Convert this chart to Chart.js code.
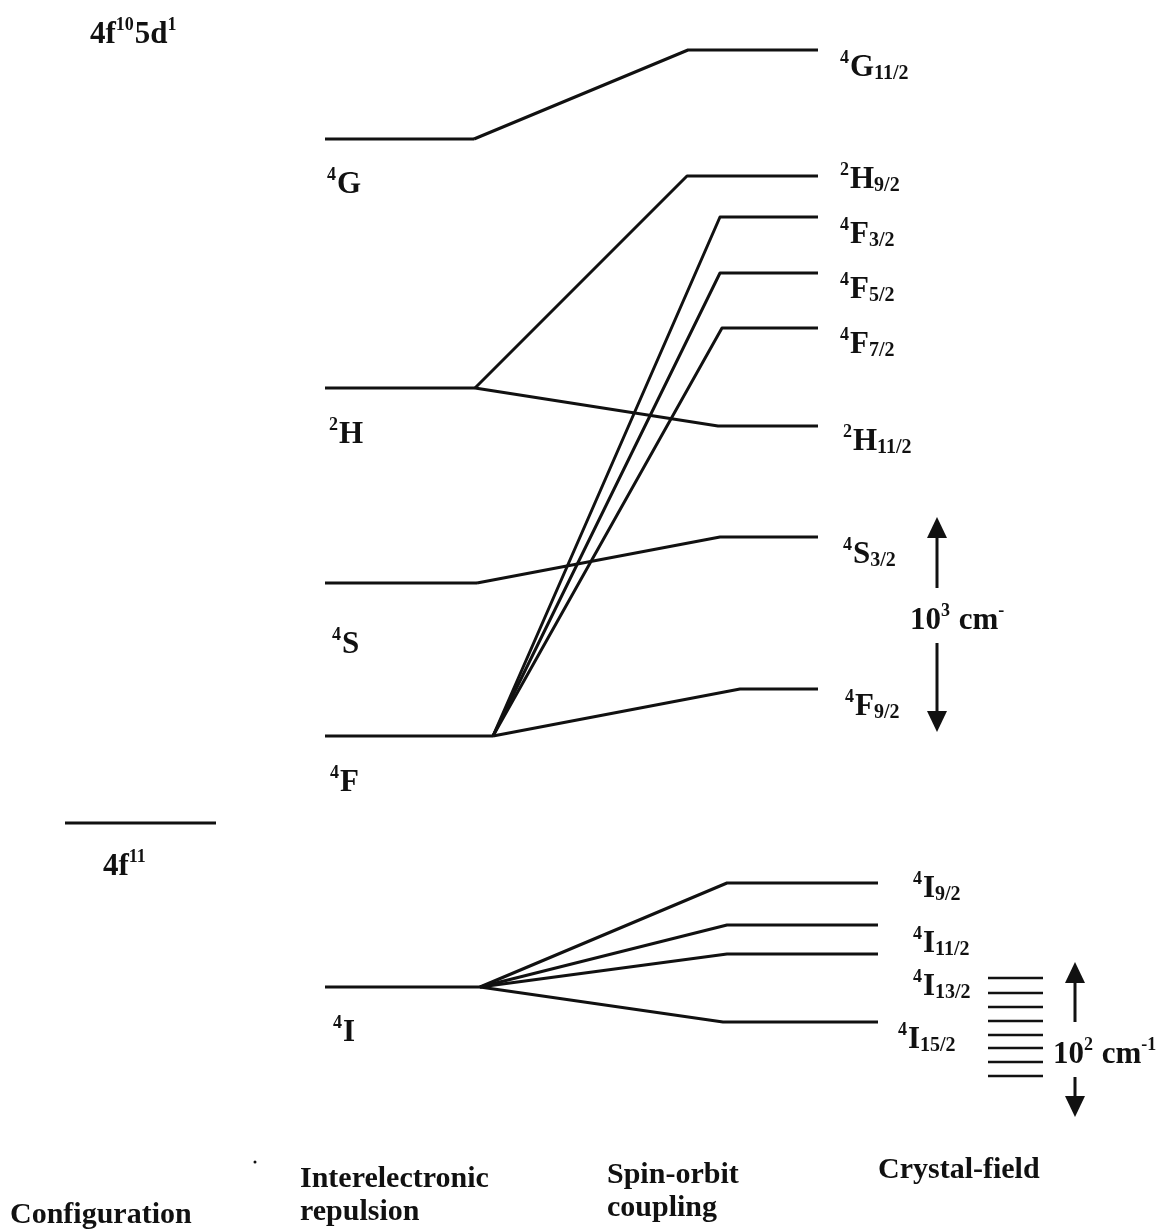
<!DOCTYPE html>
<html>
<head>
<meta charset="utf-8">
<title>Er3+ energy levels</title>
<script src="https://cdn.jsdelivr.net/npm/chart.js@4/dist/chart.umd.min.js"></script>
<style>
  html, body { margin: 0; padding: 0; background: #fff; }
  #wrap { width: 1176px; height: 1230px; position: relative; }
</style>
</head>
<body>
<div id="wrap"><canvas id="levels"></canvas></div>
<script>
// energies are in arbitrary diagram units, higher = more energetic

// terms (interelectronic repulsion)
const termSpin = ['4', '2', '4', '4', '4'];
const termLetter = ['G', 'H', 'S', 'F', 'I'];
const termEnergy = [1091, 842, 647, 494, 243];

// J multiplets (spin-orbit coupling), each tied to its parent term
const levelTerm = [0, 1, 3, 3, 3, 1, 2, 3, 4, 4, 4, 4];
const levelJ = ['11/2', '9/2', '3/2', '5/2', '7/2', '11/2', '3/2', '9/2', '9/2', '11/2', '13/2', '15/2'];
const levelEnergy = [1180, 1054, 1013, 957, 902, 804, 693, 541, 347, 305, 276, 208];

// configuration level and the Stark sublevels
const configEnergy = [407];
const starkEnergy = [252, 237, 223, 209, 195, 182, 168, 154];

// scale bars: [top, bottom]
const bigBar = [713, 498];
const smallBar = [268, 113];

const stageNames = [['Configuration'], ['Interelectronic', 'repulsion'], ['Spin-orbit', 'coupling'], ['Crystal-field']];

// ---- layout (pixels / x units) ----
const termX = [325, 475];
const branchX = [474, 475, 477, 493, 480];
const kinkX = [688, 687, 720, 720, 722, 718, 720, 740, 727, 727, 727, 723];
const levelEndX = [818, 818, 818, 818, 818, 818, 818, 818, 878, 878, 878, 878];
const configX = [65, 216];
const starkX = [988, 1043];
const termLabelX = [327, 329, 332, 330, 333];
const termLabelDy = [54, 55, 70, 55, 54];
const levelLabelX = [840, 840, 840, 840, 840, 843, 843, 845, 913, 913, 913, 898];
const levelLabelDy = [26, 12, 26, 25, 25, 24, 26, 26, 14, 27, 41, 26];

const INK = '#111';
const FONT = '"Liberation Serif", "DejaVu Serif", serif';

const datasets = [];
function addLine(points, width) {
  datasets.push({
    data: points,
    showLine: true,
    borderColor: INK,
    borderWidth: width || 3,
    pointRadius: 0,
    fill: false,
    tension: 0,
    borderJoinStyle: 'round'
  });
}

configEnergy.forEach(e => addLine([{ x: configX[0], y: e }, { x: configX[1], y: e }]));

termEnergy.forEach((e, i) => addLine([{ x: termX[0], y: e }, { x: branchX[i], y: e }]));

levelEnergy.forEach((e, i) => {
  const t = levelTerm[i];
  addLine([
    { x: branchX[t], y: termEnergy[t] },
    { x: kinkX[i], y: e },
    { x: levelEndX[i], y: e }
  ]);
});

starkEnergy.forEach(e => addLine([{ x: starkX[0], y: e }, { x: starkX[1], y: e }], 2.5));

// draws a run of text pieces: main, sup, sub
function rich(ctx, x, y, parts) {
  parts.forEach(p => {
    let size = 31, dy = 0;
    if (p.k === 'sup') { size = 18; dy = -13; }
    if (p.k === 'sub') { size = 20; dy = 3; }
    ctx.font = 'bold ' + size + 'px ' + FONT;
    ctx.fillText(p.t, x, y + dy);
    x += ctx.measureText(p.t).width + (p.k === 'sup' ? 1 : 0);
  });
}

function arrow(ctx, x, yTip, yEnd) {
  const dir = yEnd > yTip ? 1 : -1;
  const head = 21;
  ctx.beginPath();
  ctx.moveTo(x, yTip + dir * head);
  ctx.lineTo(x, yEnd);
  ctx.lineWidth = 3;
  ctx.strokeStyle = INK;
  ctx.stroke();
  ctx.beginPath();
  ctx.moveTo(x, yTip);
  ctx.lineTo(x - 10, yTip + dir * head);
  ctx.lineTo(x + 10, yTip + dir * head);
  ctx.closePath();
  ctx.fill();
}

const labels = {
  id: 'levelLabels',
  afterDatasetsDraw(chart) {
    const ctx = chart.ctx;
    const xs = chart.scales.x, ys = chart.scales.y;
    ctx.save();
    ctx.fillStyle = INK;
    ctx.textBaseline = 'alphabetic';
    ctx.textAlign = 'left';

    // configurations
    rich(ctx, 90, 43, [{ t: '4f' }, { t: '10', k: 'sup' }, { t: '5d' }, { t: '1', k: 'sup' }]);
    rich(ctx, 103, ys.getPixelForValue(configEnergy[0]) + 52, [{ t: '4f' }, { t: '11', k: 'sup' }]);

    // terms
    termEnergy.forEach((e, i) => {
      rich(ctx, termLabelX[i], ys.getPixelForValue(e) + termLabelDy[i],
        [{ t: termSpin[i], k: 'sup' }, { t: termLetter[i] }]);
    });

    // multiplets
    levelEnergy.forEach((e, i) => {
      const t = levelTerm[i];
      rich(ctx, levelLabelX[i], ys.getPixelForValue(e) + levelLabelDy[i],
        [{ t: termSpin[t], k: 'sup' }, { t: termLetter[t] }, { t: levelJ[i], k: 'sub' }]);
    });

    // scale bars
    arrow(ctx, xs.getPixelForValue(937), ys.getPixelForValue(bigBar[0]), 588);
    arrow(ctx, xs.getPixelForValue(937), ys.getPixelForValue(bigBar[1]), 643);
    rich(ctx, 910, 629, [{ t: '10' }, { t: '3', k: 'sup' }, { t: ' cm' }, { t: '-', k: 'sup' }]);
    arrow(ctx, xs.getPixelForValue(1075), ys.getPixelForValue(smallBar[0]), 1022);
    arrow(ctx, xs.getPixelForValue(1075), ys.getPixelForValue(smallBar[1]), 1077);
    rich(ctx, 1053, 1063, [{ t: '10' }, { t: '2', k: 'sup' }, { t: ' cm' }, { t: '-1', k: 'sup' }]);

    // stage captions along the bottom
    ctx.font = 'bold 30px ' + FONT;
    const capX = [10, 300, 607, 878];
    const capY = [[1223], [1187, 1220], [1183, 1216], [1178]];
    stageNames.forEach((lines, i) => {
      lines.forEach((s, j) => ctx.fillText(s, capX[i], capY[i][j]));
    });
    ctx.beginPath();
    ctx.arc(255, 1162, 1.5, 0, Math.PI * 2);
    ctx.fill();
    ctx.restore();
  }
};

new Chart(document.getElementById('levels'), {
  type: 'scatter',
  data: { datasets: datasets },
  options: {
    responsive: true,
    maintainAspectRatio: false,
    animation: false,
    layout: { padding: 0 },
    scales: {
      x: { type: 'linear', min: 0, max: 1176, display: false },
      y: { type: 'linear', min: 0, max: 1230, display: false }
    },
    plugins: { legend: { display: false }, tooltip: { enabled: false } }
  },
  plugins: [labels]
});
</script>
</body>
</html>
